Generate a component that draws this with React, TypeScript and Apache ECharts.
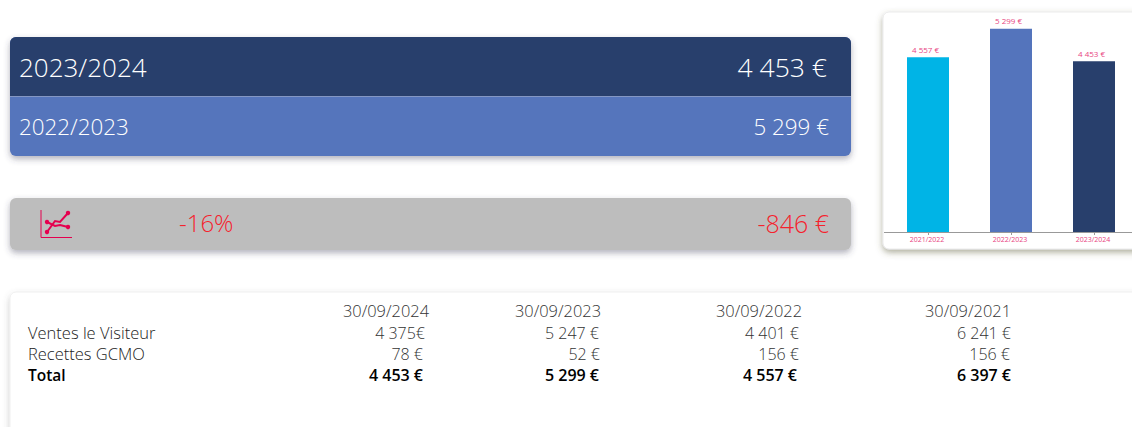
import React, { useEffect, useRef } from "react";
import * as echarts from "echarts";

const seasons = ["2021/2022", "2022/2023", "2023/2024"];
const totals = [4557, 5299, 4453];
const barColors = ["#00B4E6", "#5474BC", "#283F6C"];
const barLabels = ["4 557 €", "5 299 €", "4 453 €"];

const dates = ["30/09/2024", "30/09/2023", "30/09/2022", "30/09/2021"];
const ventes = ["4 375€", "5 247 €", "4 401 €", "6 241 €"];
const recettes = ["78 €", "52 €", "156 €", "156 €"];
const totalRow = ["4 453 €", "5 299 €", "4 557 €", "6 397 €"];
const rowNames = ["Ventes le Visiteur", "Recettes GCMO", "Total"];

const FONT = '"Open Sans", "Noto Sans", sans-serif';
const dateRight = [429, 601, 802, 1011];
const ventesRight = [425, 599, 799, 1011];
const recettesRight = [423, 600, 799, 1010];
const totalRight = [423, 599, 797, 1011];

const txt = (x: number, y: number, text: string, size: number, fill: string, align = "left", weight: number | string = 300) => ({
  type: "text", x, y, z: 10,
  style: { text, x: 0, y: 0, fill, font: `${weight} ${size}px ${FONT}`, fontFamily: FONT, fontSize: size, fontWeight: weight, textAlign: align, textVerticalAlign: "middle" },
});

const card = (x: number, y: number, w: number, h: number, fill: string, r: any, shadow = "rgba(60,60,90,0.4)", stroke?: string) => ({
  type: "rect", z: 1,
  shape: { x, y, width: w, height: h, r },
  style: { fill, stroke, lineWidth: stroke ? 1 : 0, shadowBlur: 6, shadowOffsetX: 0, shadowOffsetY: 3, shadowColor: shadow },
});

export default function App() {
  const ref = useRef<HTMLDivElement>(null);
  useEffect(() => {
    const chart = echarts.init(ref.current!, undefined, { renderer: "svg" });
    const ic = "#E5004F";
    const graphics: any[] = [
      card(10, 37, 841, 119, "#5474BC", 6),
      { type: "rect", z: 2, shape: { x: 10, y: 37, width: 841, height: 59.5, r: [6, 6, 0, 0] }, style: { fill: "#283F6C" } },
      { type: "line", z: 3, shape: { x1: 10, y1: 96.5, x2: 851, y2: 96.5 }, style: { stroke: "#8497c4", lineWidth: 1 } },
      txt(19, 67, "2023/2024", 26, "#ffffff"),
      txt(827, 67, "4 453 €", 26.5, "#ffffff", "right"),
      txt(19, 126.5, "2022/2023", 22.4, "#ffffff"),
      txt(829, 126.5, "5 299 €", 22.4, "#ffffff", "right"),

      card(10, 198, 841, 52, "#BDBDBD", 6),
      { type: "polyline", z: 5, shape: { points: [[41, 210], [41, 237.5], [72, 237.5]] }, style: { stroke: ic, lineWidth: 1, fill: "none" } },
      { type: "polyline", z: 5, shape: { points: [[47, 232], [55, 221], [60, 222], [68, 213]] }, style: { stroke: ic, lineWidth: 2, fill: "none" } },
      { type: "polyline", z: 5, shape: { points: [[47, 222], [55, 226], [60, 225], [68, 227]] }, style: { stroke: ic, lineWidth: 2, fill: "none" } },
      ...[[47, 232], [47, 222], [68, 213], [68, 227]].map(([cx, cy]) => ({ type: "circle", z: 6, shape: { cx, cy, r: 2.2 }, style: { fill: ic } })),
      txt(179, 222.5, "-16%", 24, "#F5222D"),
      txt(829, 222.5, "-846 €", 25, "#F5222D", "right"),

      card(883, 12, 270, 237, "#ffffff", 6, "rgba(95,95,60,0.5)", "#ebebeb"),
      card(10, 292, 1150, 160, "#ffffff", 6, "rgba(90,90,90,0.3)", "#efefef"),
      { type: "line", z: 21, shape: { x1: 884, y1: 232.5, x2: 887, y2: 232.5 }, style: { stroke: "#999999", lineWidth: 1 } },

      ...dates.map((d, i) => txt(dateRight[i], 310.5, d, 16.4, "#333333", "right")),
      ...ventes.map((v, i) => txt(ventesRight[i], 332.5, v, 16, "#333333", "right")),
      ...recettes.map((v, i) => txt(recettesRight[i], 353.5, v, 16, "#333333", "right")),
      ...totalRow.map((v, i) => txt(totalRight[i], 374.5, v, 16, "#000000", "right", 600)),
      txt(28, 332.5, rowNames[0], 16.5, "#222222"),
      txt(28, 353.5, rowNames[1], 16.5, "#222222"),
      txt(28, 374.5, rowNames[2], 15.5, "#000000", "left", 600),
    ];
    chart.setOption({
      animation: false,
      grid: { left: 886.5, top: 2, width: 249, height: 230, containLabel: false, z: 20 },
      graphic: { elements: graphics },
      xAxis: {
        type: "category", data: seasons, z: 20,
        axisLine: { lineStyle: { color: "#999999", width: 1 } },
        axisTick: { show: true, alignWithLabel: true, length: 3, lineStyle: { color: "#999999" } },
        axisLabel: { color: "#E8457F", fontSize: 7, fontFamily: FONT, margin: 4, padding: [0, 2, 0, 0] },
      },
      yAxis: { type: "value", min: 0, max: 6000, show: false, splitLine: { show: false } },
      series: [{
        type: "bar", z: 20, barWidth: 42,
        data: totals.map((v, i) => ({ value: v, itemStyle: { color: barColors[i] } })),
        label: {
          show: true, position: "top", distance: 4, offset: [-2.5, 0], color: "#E8457F", fontSize: 8, fontFamily: FONT,
          formatter: (p: any) => barLabels[p.dataIndex],
        },
      }],
    });
    return () => chart.dispose();
  }, []);
  return (
    <div style={{ position: "fixed", left: 0, top: 0, width: 1132, height: 427, overflow: "hidden", background: "#fff" }}>
      <div ref={ref} style={{ width: 1160, height: 427 }} />
    </div>
  );
}
